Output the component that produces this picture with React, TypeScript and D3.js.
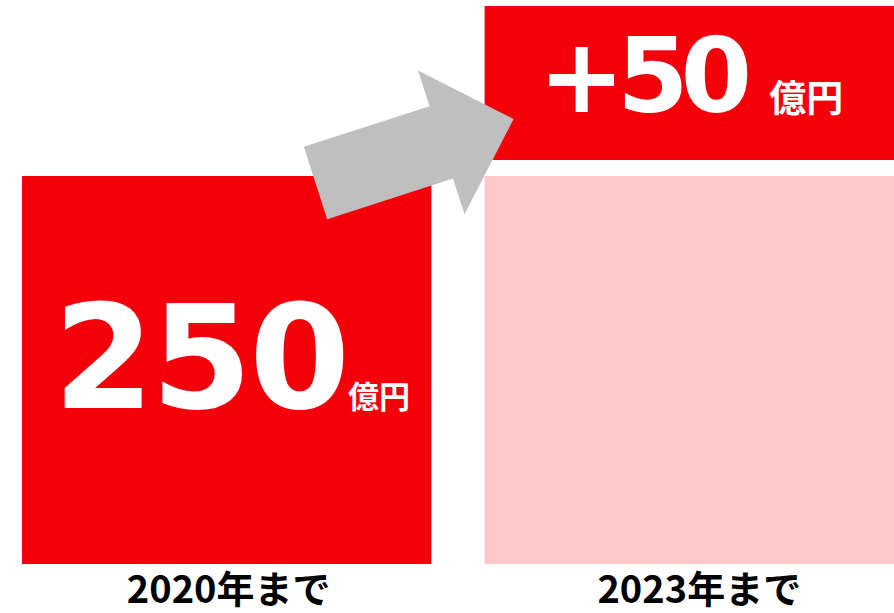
import { scaleBand, scaleLinear } from "d3";

const categories = ["2020年まで", "2023年まで"];
const baseValues = [250, 250];
const increase = [0, 50];
const unit = "億円";

const W = 894,
  H = 613;
const RED = "#f4000b";
const PINK = "#ffc9c9";
const GREY = "#bfbfbf";
const JP = "'Noto Sans CJK JP', 'Noto Sans', sans-serif";
const NUM = "'DejaVu Sans', Verdana, sans-serif";

// Arrow drawn in local coords (pointing +x, tip at origin), then rotated into place.
function arrowPath(len: number, headLen: number, shaftW: number, headW: number) {
  const s = shaftW / 2,
    h = headW / 2;
  return `M${-len},${-s}L${-headLen},${-s}L${-headLen},${-h}L0,0L${-headLen},${h}L${-headLen},${s}L${-len},${s}Z`;
}

export default function App() {
  const x = scaleBand<string>().domain(categories).range([22, 894]).paddingInner(0.115).paddingOuter(0);
  const bw = x.bandwidth();
  // base bars
  const y = scaleLinear().domain([0, 250]).range([564, 176]);
  // the increment block is drawn on its own (not to scale) axis above the bars
  const yInc = scaleLinear().domain([0, 50]).range([160, 6]);

  const c0 = categories[0],
    c1 = categories[1];
  const tail = [x(c0)! + bw * 0.717, y(baseValues[0]) + 7];
  const tip = [x(c1)! + 29, yInc(increase[1] / 2) + 36];
  const dx = tip[0] - tail[0],
    dy = tip[1] - tail[1];
  const len = Math.hypot(dx, dy);
  const ang = (Math.atan2(dy, dx) * 180) / Math.PI;

  return (
    <svg
      width={W}
      height={H}
      viewBox={`0 0 ${W} ${H}`}
      style={{ position: "absolute", left: 0, top: 0, background: "#fff" }}
    >
      {categories.map((c, i) => (
        <g key={c}>
          <rect
            x={x(c)}
            y={y(baseValues[i])}
            width={bw}
            height={y(0) - y(baseValues[i])}
            fill={i === 0 ? RED : PINK}
          />
          {increase[i] > 0 && (
            <rect x={x(c)} y={yInc(increase[i])} width={bw} height={yInc(0) - yInc(increase[i])} fill={RED} />
          )}
          <text
            x={x(c)! + bw / 2 + (i === 0 ? 2 : 10)}
            y={H - 10}
            textAnchor="middle"
            fontFamily={JP}
            fontWeight={700}
            fontSize={38}
            fill="#000"
          >
            {c}
          </text>
        </g>
      ))}

      {/* base value label */}
      <text x={x(c0)! + bw / 2 + 5} y={408} textAnchor="middle" fill="#fff" fontWeight={700}>
        <tspan fontFamily={NUM} fontSize={145} letterSpacing={-3}>
          {baseValues[0]}
        </tspan>
        <tspan fontFamily={JP} fontSize={31} dx={1}>
          {unit}
        </tspan>
      </text>

      {/* increment label */}
      <text x={x(c1)! + 54} y={112} fill="#fff" fontWeight={700}>
        <tspan fontFamily={NUM} fontSize={103} letterSpacing={-8}>
          {`+${increase[1]}`}
        </tspan>
        <tspan fontFamily={JP} fontSize={37} dx={25}>
          {unit}
        </tspan>
      </text>

      <path
        d={arrowPath(len, 76, 76, 151)}
        transform={`translate(${tip[0]},${tip[1]}) rotate(${ang})`}
        fill={GREY}
      />
    </svg>
  );
}
